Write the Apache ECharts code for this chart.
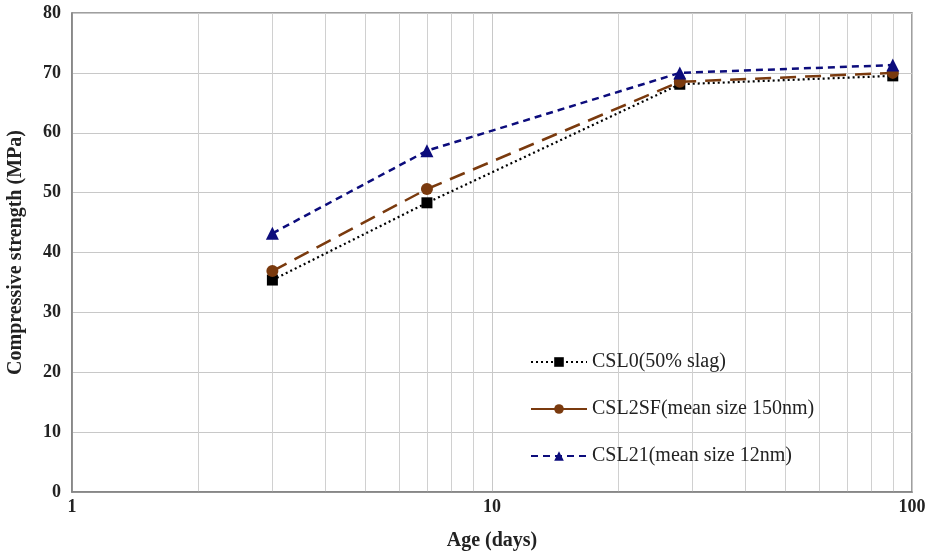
<!DOCTYPE html>
<html><head><meta charset="utf-8">
<script src="https://cdn.jsdelivr.net/npm/echarts@6/dist/echarts.min.js"></script>
<style>html,body{margin:0;padding:0;background:#fff}#c{width:928px;height:556px}</style>
</head><body><div id="c"></div>
<script>
const ages = [3, 7, 28, 90];
const csl0 = [35.4, 48.3, 68.1, 69.5];
const csl2sf = [36.9, 50.6, 68.5, 70.0];
const csl21 = [43.2, 57.0, 70.0, 71.3];
const seriesNames = ['CSL0(50% slag)', 'CSL2SF(mean size 150nm)', 'CSL21(mean size 12nm)'];
const minorDays = [2,3,4,5,6,7,8,9,20,30,40,50,60,70,80,90];
const xTicks = [1, 10, 100];
const yTicks = [0,10,20,30,40,50,60,70,80];

const font = 'Liberation Serif';
const pair = (xs, ys) => xs.map((x, i) => [x, ys[i]]);
const chart = echarts.init(document.getElementById('c'));
chart.setOption({
  animation: false,
  backgroundColor: '#fff',
  grid: { left: 72, right: 16, top: 13, bottom: 64, show: true, borderColor: '#808080', borderWidth: 1.5, outerBoundsMode: 'none', containLabel: false },
  legend: {
    orient: 'vertical', left: 525, top: 347, itemGap: 27, itemWidth: 56, itemHeight: 12,
    textStyle: { fontFamily: font, fontSize: 20, color: '#222' },
    data: [
      { name: seriesNames[0] },
      { name: seriesNames[1], lineStyle: { type: 'solid' } },
      { name: seriesNames[2] }
    ]
  },
  xAxis: {
    type: 'log', logBase: 10, min: xTicks[0], max: xTicks[xTicks.length - 1],
    name: 'Age (days)', nameLocation: 'middle', nameGap: 39,
    nameTextStyle: { fontFamily: font, fontSize: 20, fontWeight: 'bold', color: '#222' },
    axisLine: { lineStyle: { color: '#808080', width: 1.5 } },
    axisTick: { show: false },
    axisLabel: { fontFamily: font, fontSize: 18, fontWeight: 'bold', color: '#222', margin: 6 },
    splitLine: { show: true, lineStyle: { color: '#c8c8c8', width: 1 } }
  },
  yAxis: {
    type: 'value', min: yTicks[0], max: yTicks[yTicks.length - 1], interval: 10,
    name: 'Compressive strength (MPa)', nameLocation: 'middle', nameGap: 46,
    nameTextStyle: { fontFamily: font, fontSize: 20, fontWeight: 'bold', color: '#222' },
    axisLine: { show: true, lineStyle: { color: '#808080', width: 1.5 } },
    axisTick: { show: false },
    axisLabel: { fontFamily: font, fontSize: 18, fontWeight: 'bold', color: '#222', margin: 11 },
    splitLine: { show: true, lineStyle: { color: '#c8c8c8', width: 1 } }
  },
  series: [
    {
      name: 'minor', type: 'line', data: [], z: 0, silent: true,
      markLine: {
        z: 0, silent: true, symbol: 'none', label: { show: false },
        lineStyle: { color: '#d0d0d0', type: 'solid', width: 1 },
        data: minorDays.map(d => ({ xAxis: d }))
      }
    },
    {
      name: seriesNames[0], type: 'line', data: pair(ages, csl0), z: 3,
      symbol: 'rect', symbolSize: 11, color: '#000',
      lineStyle: { color: '#000', width: 2.2, type: [2, 3] },
      itemStyle: { color: '#000' }
    },
    {
      name: seriesNames[1], type: 'line', data: pair(ages, csl2sf), z: 4,
      symbol: 'circle', symbolSize: 12, color: '#7a3a0e',
      lineStyle: { color: '#7a3a0e', width: 2.5, type: [16, 9] },
      itemStyle: { color: '#7a3a0e' }
    },
    {
      name: seriesNames[2], type: 'line', data: pair(ages, csl21), z: 5,
      symbol: 'triangle', symbolSize: 13, color: '#0c0c7c',
      lineStyle: { color: '#0c0c7c', width: 2.5, type: [7, 5] },
      itemStyle: { color: '#0c0c7c' }
    }
  ]
});
</script></body></html>
